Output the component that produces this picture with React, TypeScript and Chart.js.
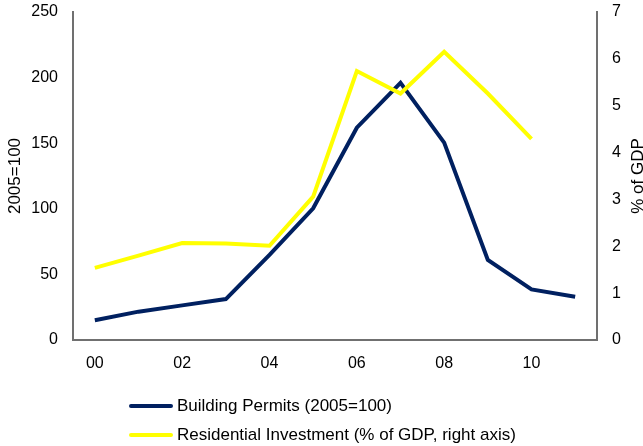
import React, { useEffect, useRef } from 'react';
import { Chart, registerables } from 'chart.js';

Chart.register(...registerables);

const years = ['00', '01', '02', '03', '04', '05', '06', '07', '08', '09', '10', '11'];
const buildingPermits = [15, 21.6, 26.4, 31.2, 64.8, 100.4, 161.8, 196, 150.4, 61, 38.6, 33];
const residentialInvestment = [1.54, 1.8, 2.07, 2.06, 2.01, 3.06, 5.74, 5.26, 6.15, 5.26, 4.29, null];
const leftAxisTitle = '2005=100';
const rightAxisTitle = '% of GDP';
const legendLabels = ['Building Permits (2005=100)', 'Residential Investment (% of GDP, right axis)'];

const NAVY = '#002060';
const YELLOW = '#FFFF00';
const AXIS = '#707070';
const FONT = '"Liberation Sans", Arial, sans-serif';

const rightTitlePlugin = {
  id: 'rightTitle',
  afterDraw(chart: any) {
    const { ctx, chartArea } = chart;
    const s = chart.scales.y1;
    ctx.save();
    ctx.translate(s.right - 5, (chartArea.top + chartArea.bottom) / 2);
    ctx.rotate(-Math.PI / 2);
    ctx.font = `17px ${FONT}`;
    ctx.fillStyle = '#000';
    ctx.textAlign = 'center';
    ctx.textBaseline = 'middle';
    ctx.fillText(rightAxisTitle, 0, 0);
    ctx.restore();
  },
};

const zeroPad = (s: any) => {
  s.paddingTop = 0;
  s.paddingBottom = 0;
  s.paddingLeft = 0;
  s.paddingRight = 0;
};

export default function App() {
  const ref = useRef<HTMLCanvasElement | null>(null);

  useEffect(() => {
    if (!ref.current) return;
    const chart = new Chart(ref.current, {
      type: 'line',
      data: {
        labels: years,
        datasets: [
          {
            label: legendLabels[0],
            data: buildingPermits,
            borderColor: NAVY,
            backgroundColor: NAVY,
            borderWidth: 4,
            pointRadius: 0,
            tension: 0,
            yAxisID: 'y',
            order: 1,
          },
          {
            label: legendLabels[1],
            data: residentialInvestment,
            borderColor: YELLOW,
            backgroundColor: YELLOW,
            borderWidth: 4,
            pointRadius: 0,
            tension: 0,
            yAxisID: 'y1',
            order: 0,
          },
        ],
      },
      options: {
        animation: false,
        responsive: false,
        maintainAspectRatio: false,
        layout: { padding: { top: 12, left: 0, right: 0, bottom: 0 } },
        plugins: {
          legend: { display: false },
          tooltip: { enabled: false },
        },
        scales: {
          x: {
            offset: true,
            grid: { display: false, drawTicks: false },
            border: { display: true, color: AXIS, width: 2 },
            ticks: {
              autoSkip: false,
              maxRotation: 0,
              padding: 14,
              color: '#000',
              font: { family: FONT, size: 16 },
              callback: (_v: any, i: number) => (i % 2 === 0 ? years[i] : ''),
            },
            afterFit: (s: any) => {
              s.height = 106;
              zeroPad(s);
            },
          },
          y: {
            position: 'left',
            min: 0,
            max: 250,
            grid: { display: false, drawTicks: false },
            border: { display: true, color: AXIS, width: 2 },
            ticks: {
              stepSize: 50,
              padding: 15,
              color: '#000',
              font: { family: FONT, size: 16 },
            },
            title: {
              display: true,
              text: leftAxisTitle,
              color: '#000',
              font: { family: FONT, size: 17 },
              padding: { top: 5, bottom: 0 },
            },
            afterFit: (s: any) => {
              s.width = 73;
              zeroPad(s);
            },
          },
          y1: {
            position: 'right',
            min: 0,
            max: 7,
            grid: { display: false, drawTicks: false },
            border: { display: true, color: AXIS, width: 2 },
            ticks: {
              stepSize: 1,
              padding: 15,
              color: '#000',
              font: { family: FONT, size: 16 },
            },
            afterFit: (s: any) => {
              s.width = 46;
              zeroPad(s);
            },
          },
        },
      },
      plugins: [rightTitlePlugin],
    });
    return () => chart.destroy();
  }, []);

  const row = (color: string, text: string, top: number) => (
    <div
      style={{
        position: 'absolute',
        left: 129,
        top,
        height: 28,
        display: 'flex',
        alignItems: 'center',
        font: `17px ${FONT}`,
        color: '#000',
        whiteSpace: 'nowrap',
      }}
    >
      <div style={{ width: 44, height: 4, background: color, borderRadius: 2 }} />
      <span style={{ marginLeft: 4 }}>{text}</span>
    </div>
  );

  return (
    <div style={{ position: 'absolute', left: 0, top: 0, width: 643, height: 446, background: '#fff' }}>
      <canvas ref={ref} width={643} height={446} style={{ display: 'block', width: 643, height: 446 }} />
      {row(NAVY, legendLabels[0], 392)}
      {row(YELLOW, legendLabels[1], 421)}
    </div>
  );
}
